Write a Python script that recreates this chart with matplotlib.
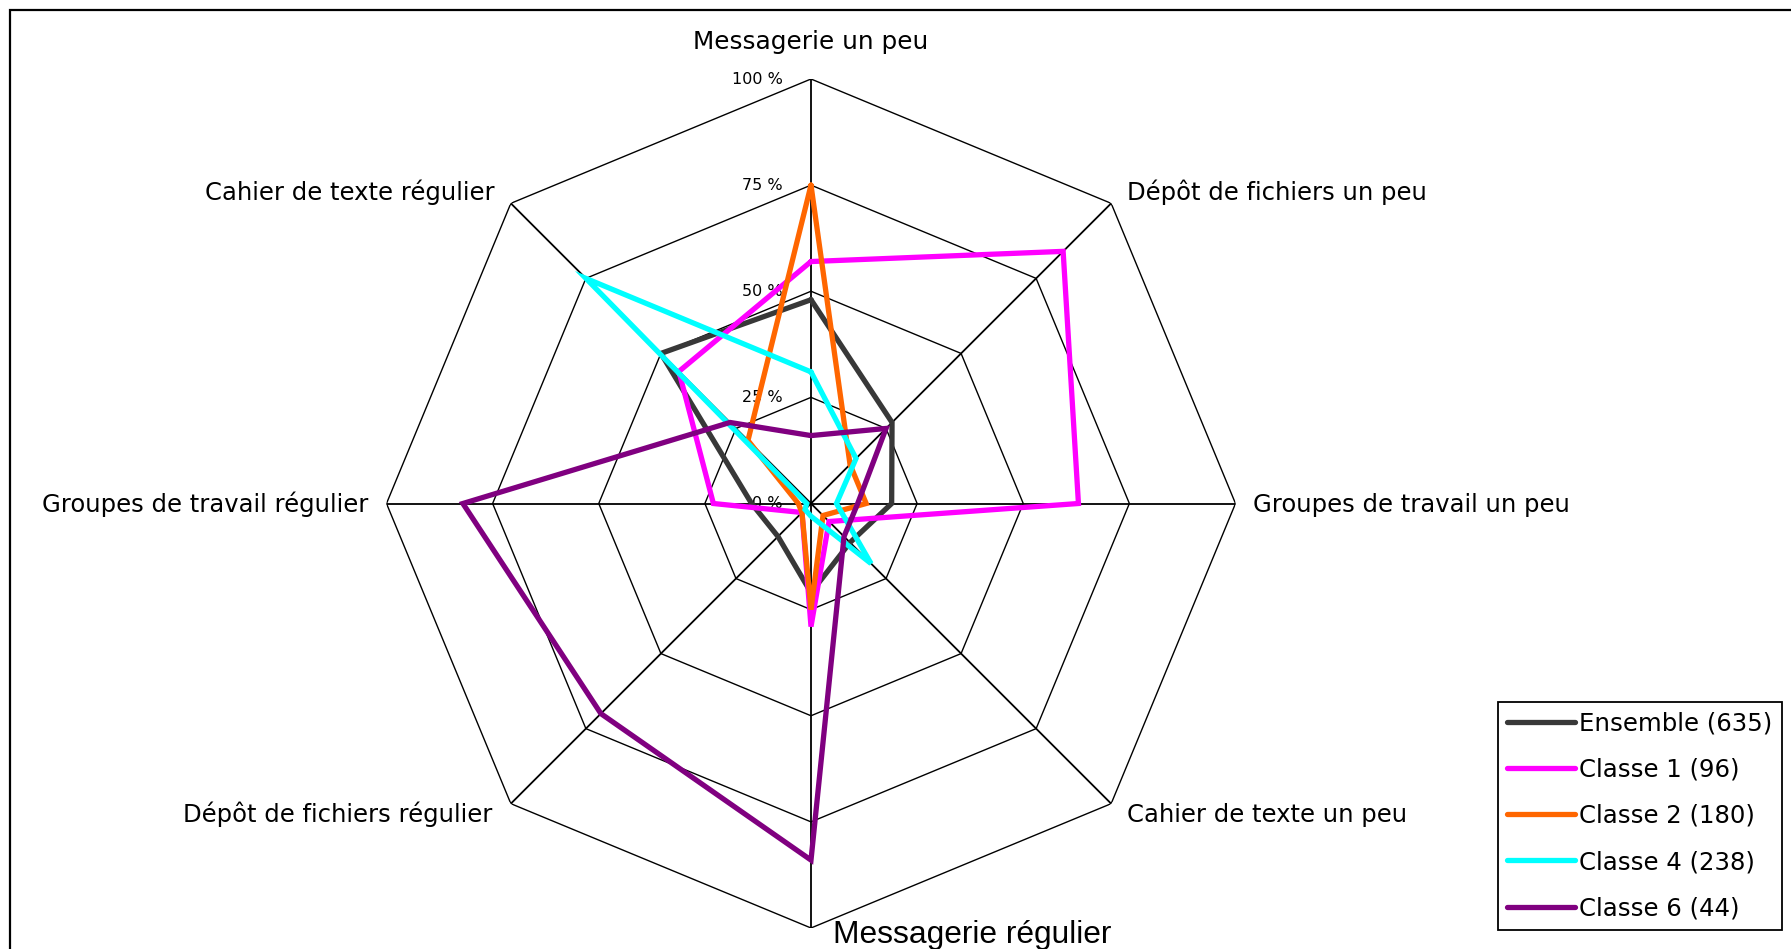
import numpy as np
import matplotlib
matplotlib.use("Agg")
import matplotlib.pyplot as plt
from matplotlib.patches import Rectangle

# ---------------- data ----------------
categories = [
    "Messagerie un peu",
    "Dépôt de fichiers un peu",
    "Groupes de travail un peu",
    "Cahier de texte un peu",
    "Messagerie régulier",
    "Dépôt de fichiers régulier",
    "Groupes de travail régulier",
    "Cahier de texte régulier",
]
ensemble = [48, 27, 19, 13, 21, 11, 14, 50]
classe1 = [57, 84, 63, 6, 29, 3, 23, 44]
classe2 = [75, 13, 13, 4, 25, 3, 3, 21]
classe4 = [31, 15, 6, 20, 3, 2, 1, 75]
classe6 = [16, 25, 11, 11, 84, 70, 82, 27]
series_labels = ["Ensemble (635)", "Classe 1 (96)", "Classe 2 (180)",
                 "Classe 4 (238)", "Classe 6 (44)"]
ring_levels = [0, 25, 50, 75, 100]
ring_labels = ["0 %", "25 %", "50 %", "75 %", "100 %"]

# ---------------- style ----------------
colors = ["#383838", "#FF00FF", "#FF6600", "#00FFFF", "#800080"]
# label placement (offset in pixels from 100 % vertex, ha, va, family, size)
label_style = [
    ((0, 30), "center", "baseline", "DejaVu Sans", 17.8),
    ((16, 3), "left", "baseline", "DejaVu Sans", 17.5),
    ((17.5, -8.5), "left", "baseline", "DejaVu Sans", 17.5),
    ((16, -18), "left", "baseline", "DejaVu Sans", 17.5),
    ((22, -15), "left", "baseline", "Liberation Sans", 22.9),
    ((-18, -18), "right", "baseline", "DejaVu Sans", 17.5),
    ((-18.5, -8.5), "right", "baseline", "DejaVu Sans", 17.5),
    ((-16, 3), "right", "baseline", "DejaVu Sans", 17.5),
]

W, H = 1791, 949
fig = plt.figure(figsize=(W / 100, H / 100), dpi=100)
fig.patch.set_facecolor("white")

# outer frame (left and top edges visible)
fig.add_artist(Rectangle((10 / W, -0.5), 2.0, 1.5 - 10 / H, transform=fig.transFigure,
                         fill=False, edgecolor="black", linewidth=1.6))

cx, cy, R = 811, 503.5, 424.5
ax = fig.add_axes([(cx - R) / W, (H - cy - R) / H, 2 * R / W, 2 * R / H],
                  projection="polar")
ax.set_theta_zero_location("N")
ax.set_theta_direction(-1)
ax.set_ylim(0, 100)
ax.grid(False)
ax.spines["polar"].set_visible(False)
ax.set_xticks([])
ax.set_yticks([])
ax.patch.set_visible(False)

n = len(categories)
angles = np.linspace(0, 2 * np.pi, n, endpoint=False)
closed = np.concatenate([angles, angles[:1]])

# octagonal rings
for lvl in ring_levels[1:]:
    ax.plot(closed, [lvl] * (n + 1), color="black", lw=1.0, zorder=1)
# spokes
for a in angles:
    ax.plot([a, a], [0, 100], color="black", lw=1.3, zorder=1)

# ring labels on top axis
for lvl, lab in zip(ring_levels, ring_labels):
    ax.annotate(lab, xy=(0, lvl), xytext=(-28, 0), textcoords="offset pixels",
                ha="right", va="center", fontsize=11.5, family="DejaVu Sans",
                color="black", zorder=2)

# category labels
for a, cat, (off, ha, va, fam, fs) in zip(angles, categories, label_style):
    ax.annotate(cat, xy=(a, 100), xytext=off, textcoords="offset pixels",
                ha=ha, va=va, fontsize=fs, family=fam, color="black",
                annotation_clip=False)

# series
handles = []
for vals, col, lab in zip([ensemble, classe1, classe2, classe4, classe6],
                          colors, series_labels):
    v = list(vals) + [vals[0]]
    ln, = ax.plot(closed, v, color=col, lw=3.8, solid_joinstyle="miter",
                  solid_capstyle="round", label=lab, zorder=3)
    ln.set_clip_on(False)
    handles.append(ln)

leg = fig.legend(handles=handles, loc="upper left",
                 bbox_to_anchor=(1498 / W, 1 - 702 / H),
                 bbox_transform=fig.transFigure, borderaxespad=0,
                 prop={"family": "DejaVu Sans", "size": 17.6},
                 frameon=True, fancybox=False, framealpha=1,
                 edgecolor="black", borderpad=0.38, handlelength=2.75,
                 handletextpad=0.2, labelspacing=0.91)
leg.get_frame().set_linewidth(1.3)

fig.savefig("out.png", dpi=100, facecolor="white")
